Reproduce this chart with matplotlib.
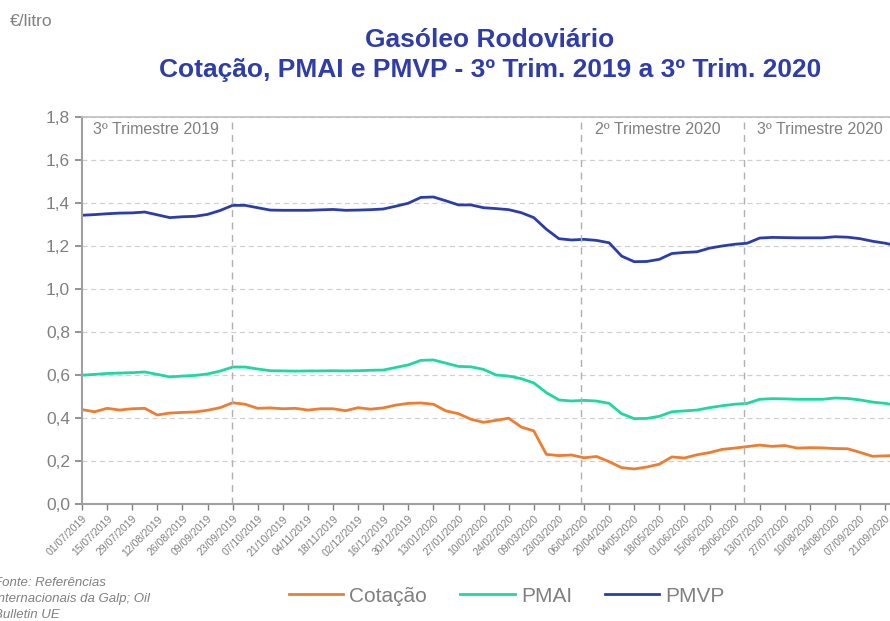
import matplotlib
matplotlib.use("Agg")
import matplotlib.pyplot as plt
import numpy as np

plt.rcParams['font.family'] = ['Liberation Sans', 'DejaVu Sans']

# weekly values, 01/07/2019 .. 28/09/2020
cotacao = [0.439, 0.429, 0.445, 0.437, 0.443, 0.445, 0.414, 0.423, 0.426, 0.428,
           0.436, 0.448, 0.471, 0.464, 0.445, 0.447, 0.443, 0.445, 0.437, 0.443,
           0.443, 0.434, 0.448, 0.441, 0.447, 0.460, 0.468, 0.470, 0.464, 0.433,
           0.420, 0.394, 0.380, 0.389, 0.399, 0.358, 0.340, 0.231, 0.225, 0.228,
           0.215, 0.221, 0.197, 0.169, 0.163, 0.172, 0.185, 0.219, 0.214, 0.229,
           0.239, 0.254, 0.260, 0.267, 0.274, 0.268, 0.272, 0.260, 0.262, 0.261,
           0.258, 0.257, 0.240, 0.222, 0.224, 0.226]
pmai = [0.599, 0.603, 0.607, 0.609, 0.611, 0.614, 0.603, 0.591, 0.595, 0.598,
        0.605, 0.618, 0.637, 0.637, 0.628, 0.620, 0.619, 0.618, 0.619, 0.619,
        0.620, 0.619, 0.620, 0.622, 0.623, 0.635, 0.647, 0.668, 0.670, 0.655,
        0.640, 0.638, 0.626, 0.600, 0.595, 0.583, 0.563, 0.518, 0.484, 0.479,
        0.482, 0.479, 0.468, 0.420, 0.397, 0.398, 0.408, 0.429, 0.433, 0.437,
        0.448, 0.457, 0.464, 0.468, 0.487, 0.490, 0.489, 0.487, 0.487, 0.487,
        0.493, 0.491, 0.484, 0.474, 0.468, 0.458]
pmvp = [1.343, 1.346, 1.350, 1.353, 1.354, 1.358, 1.345, 1.332, 1.336, 1.338,
        1.347, 1.365, 1.389, 1.389, 1.378, 1.367, 1.366, 1.366, 1.366, 1.368,
        1.370, 1.366, 1.367, 1.369, 1.372, 1.385, 1.399, 1.426, 1.428, 1.410,
        1.391, 1.391, 1.378, 1.374, 1.369, 1.355, 1.332, 1.278, 1.234, 1.228,
        1.231, 1.226, 1.215, 1.153, 1.127, 1.128, 1.138, 1.165, 1.170, 1.173,
        1.190, 1.200, 1.208, 1.213, 1.237, 1.240, 1.239, 1.238, 1.238, 1.238,
        1.243, 1.241, 1.234, 1.222, 1.213, 1.200]

tick_labels = ['01/07/2019', '15/07/2019', '29/07/2019', '12/08/2019', '26/08/2019',
               '09/09/2019', '23/09/2019', '07/10/2019', '21/10/2019', '04/11/2019',
               '18/11/2019', '02/12/2019', '16/12/2019', '30/12/2019', '13/01/2020',
               '27/01/2020', '10/02/2020', '24/02/2020', '09/03/2020', '23/03/2020',
               '06/04/2020', '20/04/2020', '04/05/2020', '18/05/2020', '01/06/2020',
               '15/06/2020', '29/06/2020', '13/07/2020', '27/07/2020', '10/08/2020',
               '24/08/2020', '07/09/2020', '21/09/2020']

quarter_lines = [11.95, 39.75, 52.75]
quarter_labels = ['3º Trimestre 2019', '2º Trimestre 2020', '3º Trimestre 2020']
quarter_label_x = [0.9, 40.9, 53.8]

gray = '#808080'
title_blue = '#2E3DAA'

fig = plt.figure(figsize=(8.9, 6.21), dpi=100)
ax = fig.add_axes([82 / 890, 1 - 504 / 621, 1 - 82 / 890, (504 - 117) / 621])

x = np.arange(len(pmvp))
ax.plot(x, cotacao, color='#ED7D31', lw=2.0, label='Cotação')
ax.plot(x, pmai, color='#1ED8A2', lw=2.0, label='PMAI')
ax.plot(x, pmvp, color='#2B3DAB', lw=2.0, label='PMVP')

ax.set_xlim(0, (890 - 82) / 12.55)
ax.set_ylim(0, 1.8)
ax.set_yticks(np.arange(0, 1.81, 0.2))
ax.set_yticklabels([f'{v:.1f}'.replace('.', ',') for v in np.arange(0, 1.81, 0.2)])
ax.set_xticks(np.arange(0, 2 * len(tick_labels), 2))
ax.set_xticklabels(tick_labels, rotation=45, ha='right', rotation_mode='anchor')

ax.tick_params(axis='y', colors=gray, labelsize=12.5, length=5, width=1.2)
ax.tick_params(axis='x', colors=gray, labelsize=7.5, length=4, width=1.0, pad=3)
for lab in ax.get_xticklabels() + ax.get_yticklabels():
    lab.set_color(gray)

ax.grid(axis='y', color='#D0D0D0', ls=(0, (4, 3)), lw=0.9)
ax.set_axisbelow(True)
ax.spines['right'].set_visible(False)
ax.spines['top'].set_color('#BFBFBF')
ax.spines['top'].set_linewidth(1.2)
for side in ['left', 'bottom']:
    ax.spines[side].set_color('#A0A0A0')
    ax.spines[side].set_linewidth(1.5)

for xq, lab, xl in zip(quarter_lines, quarter_labels, quarter_label_x):
    ax.axvline(xq, color='#B0B0B0', ls=(0, (5, 4)), lw=1.0)
    ax.text(xl, 1.775, lab, color=gray, fontsize=11.5, va='top', ha='left')

fig.text(490 / 890, 1 - 40 / 621, 'Gasóleo Rodoviário', color=title_blue,
         fontsize=19, fontweight='bold', ha='center', va='center')
fig.text(490 / 890, 1 - 70 / 621, 'Cotação, PMAI e PMVP - 3º Trim. 2019 a 3º Trim. 2020',
         color=title_blue, fontsize=19, fontweight='bold', ha='center', va='center')
fig.text(10 / 890, 1 - 22 / 621, '€/litro', color=gray, fontsize=12.5, va='center')

fig.text(-6 / 890, 1 - 599 / 621, 'Fonte: Referências\nInternacionais da Galp; Oil\nBulletin UE',
         color=gray, fontsize=9.5, style='italic', va='center', ha='left', linespacing=1.4)

fig.legend(loc='center', bbox_to_anchor=(507 / 890, 1 - 596 / 621), ncol=3, frameon=False,
           fontsize=15, handlelength=2.6, columnspacing=1.6, handletextpad=0.3,
           labelcolor=gray)

fig.savefig('out.png', dpi=100)
